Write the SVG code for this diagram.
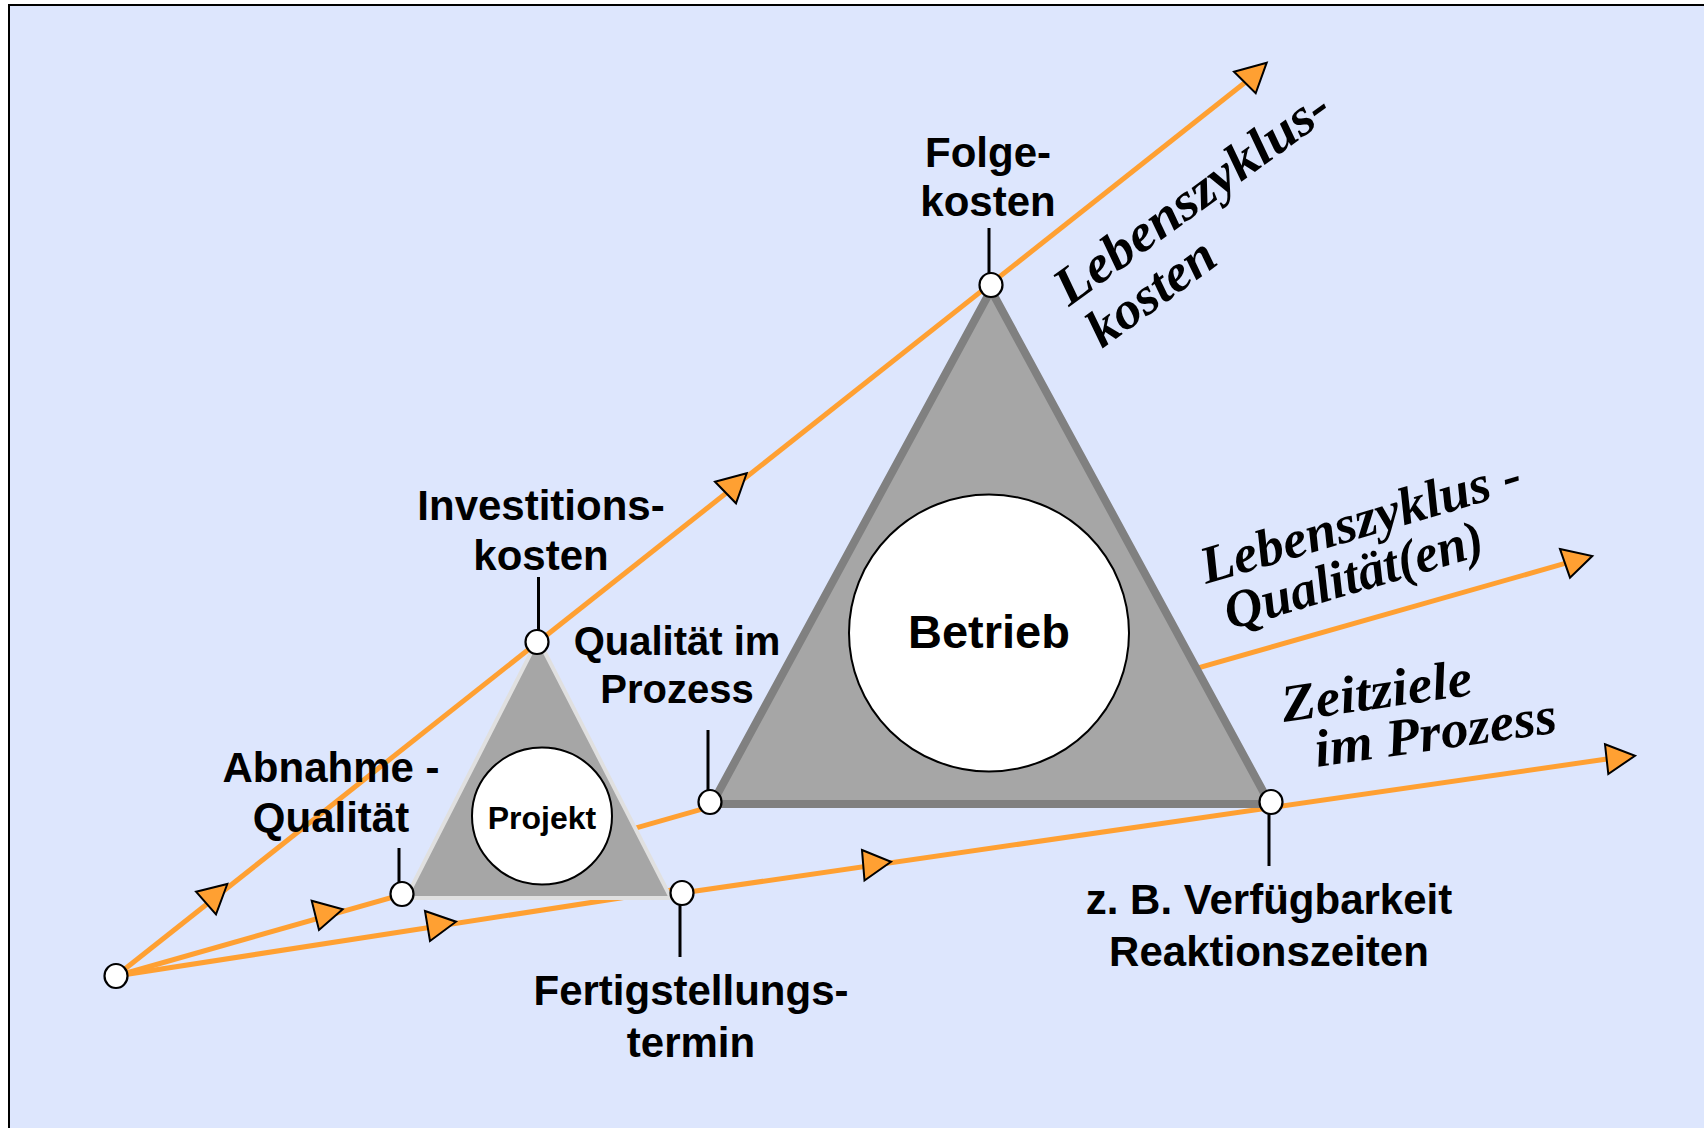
<svg xmlns="http://www.w3.org/2000/svg" width="1704" height="1128" viewBox="0 0 1704 1128">
  <style>
    .line { stroke: #ffa032; stroke-width: 5; fill: none; }
    .arrow { fill: #ffa032; stroke: #000; stroke-width: 2; stroke-linejoin: miter; }
    .leader { stroke: #000; stroke-width: 3; }
    .dot { fill: #fff; stroke: #000; stroke-width: 2.2; }
    .lbl { font-family: "Liberation Sans", Arial, sans-serif; font-weight: bold; font-size: 42px; fill: #000; text-anchor: middle; }
    .ital { font-family: "Liberation Serif", "Times New Roman", serif; font-weight: bold; font-style: italic; font-size: 53px; fill: #000; }
  </style>
  <rect x="0" y="0" width="1704" height="1128" fill="#ffffff"/>
  <rect x="9" y="5" width="1720" height="1150" fill="#dde6fd" stroke="#000" stroke-width="2"/>

  <g id="connectors">
    <line class="line" x1="116" y1="976" x2="1245" y2="82.5"/>
    <line class="line" x1="116" y1="976" x2="1565" y2="563.4"/>
    <line class="line" x1="116" y1="976" x2="672" y2="890"/>
    <line class="line" x1="682" y1="893" x2="1607" y2="759"/>
  </g>

  <g id="projekt">
    <polygon points="538,639 406,898 671,898" fill="#a6a6a6" stroke="#e0e0e0" stroke-width="4"/>
    <ellipse cx="542" cy="816" rx="70" ry="68.5" fill="#fff" stroke="#000" stroke-width="2"/>
    <text class="lbl" x="542" y="829" style="font-size:32px">Projekt</text>
  </g>

  <g id="betrieb">
    <polygon points="991,290 712,804 1270,804" fill="#a6a6a6" stroke="#808080" stroke-width="8"/>
    <ellipse cx="989" cy="633" rx="140" ry="138.5" fill="#fff" stroke="#000" stroke-width="2"/>
    <text class="lbl" x="989" y="648" style="font-size:47px">Betrieb</text>
  </g>

  <g id="arrowheads">
    <polygon class="arrow" points="196,891.7 227.3,884 216,914.3"/>
    <polygon class="arrow" points="715,481.7 746.7,473.3 736,503.3"/>
    <polygon class="arrow" points="1234,71.7 1266.7,62.7 1255.7,93.3"/>
    <polygon class="arrow" points="311.7,900.7 342.7,909.3 319,930"/>
    <polygon class="arrow" points="1560,549 1592.3,556 1570,577.7"/>
    <polygon class="arrow" points="425,911 456,921.7 430,941"/>
    <polygon class="arrow" points="862,850 891,861.7 864.5,880.5"/>
    <polygon class="arrow" points="1605,744.3 1635,755.7 1608.3,774"/>
  </g>

  <g id="start">
    <ellipse class="dot" cx="116" cy="976" rx="11.5" ry="12"/>
  </g>

  <g id="abnahme">
    <line class="leader" x1="399" y1="848" x2="399" y2="883"/>
    <ellipse class="dot" cx="402" cy="894" rx="11.5" ry="12"/>
    <text class="lbl" x="331" y="782">Abnahme -</text>
    <text class="lbl" x="331" y="832">Qualität</text>
  </g>

  <g id="investitionskosten">
    <line class="leader" x1="538.5" y1="577" x2="538.5" y2="631"/>
    <ellipse class="dot" cx="537" cy="642" rx="11.5" ry="12"/>
    <text class="lbl" x="541" y="520">Investitions-</text>
    <text class="lbl" x="541" y="570">kosten</text>
  </g>

  <g id="fertigstellungstermin">
    <line class="leader" x1="680" y1="904" x2="680" y2="957"/>
    <ellipse class="dot" cx="682" cy="893" rx="11.5" ry="12"/>
    <text class="lbl" x="691" y="1005">Fertigstellungs-</text>
    <text class="lbl" x="691" y="1057">termin</text>
  </g>

  <g id="qualitaet-prozess">
    <line class="leader" x1="708" y1="730" x2="708" y2="791"/>
    <ellipse class="dot" cx="710" cy="802" rx="11.5" ry="12"/>
    <text class="lbl" x="677" y="655" style="font-size:40px">Qualität im</text>
    <text class="lbl" x="677" y="703" style="font-size:40px">Prozess</text>
  </g>

  <g id="folgekosten">
    <line class="leader" x1="989" y1="228" x2="989" y2="274"/>
    <ellipse class="dot" cx="991" cy="285" rx="11.5" ry="12"/>
    <text class="lbl" x="988" y="167">Folge-</text>
    <text class="lbl" x="988" y="216">kosten</text>
  </g>

  <g id="reaktionszeiten">
    <line class="leader" x1="1269" y1="813" x2="1269" y2="866"/>
    <ellipse class="dot" cx="1271" cy="802" rx="11.5" ry="12"/>
    <text class="lbl" x="1269" y="914">z. B. Verfügbarkeit</text>
    <text class="lbl" x="1269" y="966">Reaktionszeiten</text>
  </g>

  <g id="lebenszykluskosten">
    <text class="ital" transform="translate(1069,307) rotate(-36)" textLength="328" lengthAdjust="spacingAndGlyphs">Lebenszyklus-</text>
    <text class="ital" transform="translate(1102,349) rotate(-36)" textLength="146" lengthAdjust="spacingAndGlyphs">kosten</text>
  </g>

  <g id="lebenszyklusqualitaet">
    <text class="ital" transform="translate(1206,584) rotate(-16.5)" textLength="332" lengthAdjust="spacingAndGlyphs">Lebenszyklus -</text>
    <text class="ital" transform="translate(1230,630) rotate(-16.5)" textLength="268" lengthAdjust="spacingAndGlyphs">Qualität(en)</text>
  </g>

  <g id="zeitziele">
    <text class="ital" transform="translate(1284,722) rotate(-8.2)" textLength="192" lengthAdjust="spacingAndGlyphs">Zeitziele</text>
    <text class="ital" transform="translate(1317,767) rotate(-8.2)" textLength="244" lengthAdjust="spacingAndGlyphs">im Prozess</text>
  </g>
</svg>
